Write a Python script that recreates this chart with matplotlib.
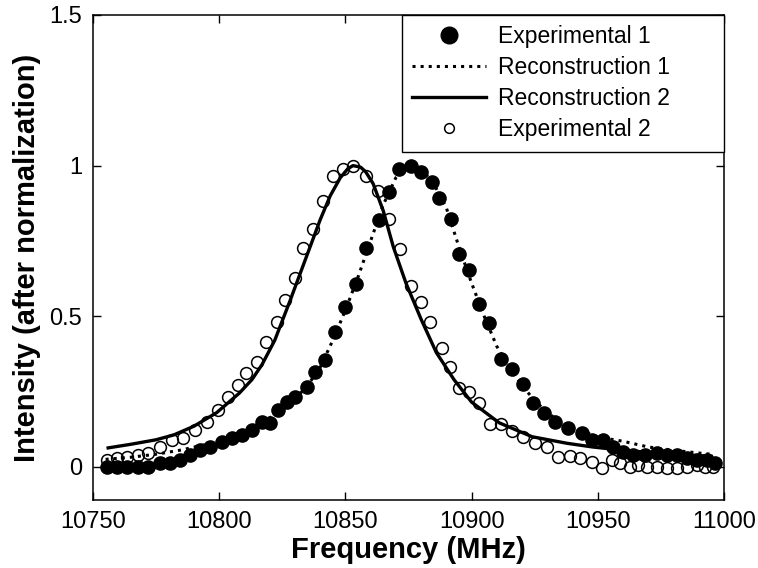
import matplotlib
matplotlib.use("Agg")
import matplotlib.pyplot as plt

plt.rcParams['font.family'] = ['Liberation Sans', 'DejaVu Sans']

# --- Experimental 1 (filled circles) ---
freq_exp1 = [10755.5, 10759.5, 10763.5, 10767.8, 10771.8, 10776.5, 10780.5, 10784.5,
             10788.4, 10792.4, 10796.4, 10801.1, 10805.1, 10809.0, 10813.0, 10817.0,
             10820.0, 10823.3, 10826.9, 10830.0, 10834.8, 10838.0, 10841.9, 10845.9,
             10849.8, 10854.2, 10858.2, 10863.3, 10867.3, 10871.2, 10876.0, 10880.0,
             10884.3, 10887.1, 10891.8, 10895.0, 10899.0, 10902.9, 10906.9, 10911.6,
             10916.0, 10920.4, 10924.3, 10928.7, 10933.0, 10938.2, 10943.7, 10947.7,
             10952.1, 10956.0, 10960.0, 10963.9, 10968.7, 10973.5, 10977.4, 10981.4,
             10985.3, 10989.3, 10993.3, 10996.4]
int_exp1 = [0.0, 0.0, 0.0, 0.0, 0.0, 0.013, 0.013, 0.023,
            0.040, 0.056, 0.066, 0.083, 0.096, 0.106, 0.123, 0.149,
            0.146, 0.189, 0.215, 0.232, 0.265, 0.315, 0.354, 0.447,
            0.530, 0.606, 0.728, 0.818, 0.911, 0.990, 1.000, 0.980,
            0.947, 0.891, 0.824, 0.705, 0.652, 0.540, 0.477, 0.358,
            0.325, 0.275, 0.212, 0.179, 0.149, 0.129, 0.113, 0.089,
            0.089, 0.066, 0.050, 0.040, 0.040, 0.046, 0.040, 0.040,
            0.030, 0.023, 0.023, 0.013]

# --- Experimental 2 (open circles) ---
freq_exp2 = [10755.5, 10759.5, 10763.5, 10767.8, 10771.8, 10776.5, 10781.3, 10785.7,
             10790.4, 10795.2, 10799.5, 10803.5, 10807.4, 10810.6, 10815.0, 10818.5,
             10822.9, 10826.1, 10830.0, 10833.2, 10837.2, 10841.1, 10845.1, 10849.0,
             10853.0, 10858.2, 10862.9, 10867.3, 10871.6, 10876.0, 10880.0, 10883.5,
             10888.3, 10891.4, 10895.0, 10899.0, 10902.9, 10907.3, 10911.6, 10916.0,
             10920.4, 10925.1, 10929.9, 10934.2, 10939.0, 10943.0, 10947.7, 10951.7,
             10955.6, 10958.8, 10962.8, 10966.0, 10969.5, 10973.5, 10977.4, 10981.4,
             10985.3, 10989.3, 10992.5, 10995.6]
int_exp2 = [0.023, 0.030, 0.033, 0.040, 0.046, 0.066, 0.089, 0.096,
            0.123, 0.149, 0.189, 0.232, 0.272, 0.311, 0.348, 0.414,
            0.480, 0.553, 0.626, 0.725, 0.791, 0.884, 0.967, 0.990,
            1.000, 0.967, 0.917, 0.824, 0.722, 0.599, 0.546, 0.480,
            0.394, 0.331, 0.262, 0.248, 0.212, 0.142, 0.142, 0.119,
            0.099, 0.079, 0.066, 0.033, 0.036, 0.030, 0.017, -0.003,
            0.023, 0.013, 0.000, 0.007, 0.000, 0.000, -0.003, -0.003,
            0.000, 0.007, 0.000, 0.000]

# --- Reconstruction 1 (dotted) ---
freq_rec1 = [10755, 10765, 10775, 10785, 10795, 10805, 10815, 10825, 10830, 10835,
             10840, 10845, 10850, 10855, 10860, 10865, 10870, 10875, 10878, 10880,
             10885, 10890, 10895, 10900, 10905, 10910, 10915, 10920, 10925, 10930,
             10935, 10940, 10945, 10950, 10955, 10960, 10970, 10980, 10990, 10995]
int_rec1 = [0.025, 0.032, 0.042, 0.056, 0.075, 0.100, 0.135, 0.190, 0.225, 0.270,
            0.330, 0.420, 0.520, 0.630, 0.750, 0.870, 0.960, 1.000, 1.000, 0.990,
            0.940, 0.860, 0.730, 0.610, 0.500, 0.400, 0.330, 0.270, 0.220, 0.180,
            0.150, 0.130, 0.115, 0.100, 0.092, 0.085, 0.066, 0.055, 0.046, 0.042]

# --- Reconstruction 2 (solid) ---
freq_rec2 = [10756, 10765, 10775, 10782, 10790, 10799, 10808, 10813, 10817, 10822,
             10828, 10832, 10836, 10840, 10844, 10848, 10851, 10853, 10856, 10858,
             10861, 10865, 10869, 10874, 10880, 10886, 10893, 10900, 10911, 10924,
             10938, 10948, 10960, 10975, 10995]
int_rec2 = [0.063, 0.075, 0.090, 0.106, 0.135, 0.180, 0.245, 0.290, 0.340, 0.420,
            0.550, 0.640, 0.730, 0.820, 0.900, 0.960, 0.990, 1.000, 0.995, 0.980,
            0.940, 0.850, 0.730, 0.610, 0.490, 0.380, 0.290, 0.215, 0.146, 0.100,
            0.078, 0.066, 0.055, 0.045, 0.035]

x_ticks = [10750, 10800, 10850, 10900, 10950, 11000]
y_ticks = [0, 0.5, 1, 1.5]
y_tick_labels = ["0", "0.5", "1", "1.5"]

fig = plt.figure(figsize=(7.58, 5.68), dpi=100)
ax = fig.add_axes([0.1227, 0.1197, 0.8324, 0.8539])

ax.plot(freq_exp1, int_exp1, 'o', color='black', markersize=9.5,
        label='Experimental 1', zorder=3)
ax.plot(freq_rec1, int_rec1, ':', color='black', linewidth=2.2,
        label='Reconstruction 1', zorder=2)
ax.plot(freq_rec2, int_rec2, '-', color='black', linewidth=2.4,
        label='Reconstruction 2', zorder=2)
ax.plot(freq_exp2, int_exp2, 'o', markerfacecolor='none', markeredgecolor='black',
        markeredgewidth=1.1, markersize=8.5, label='Experimental 2', zorder=3)

ax.set_xlim(10750, 11000)
ax.set_ylim(-0.11, 1.5)
ax.set_xticks(x_ticks)
ax.set_yticks(y_ticks)
ax.set_yticklabels(y_tick_labels)
ax.tick_params(direction='in', length=6, width=1, top=True, right=True,
               labelsize=17, pad=8)
for sp in ax.spines.values():
    sp.set_linewidth(1.1)

ax.set_xlabel('Frequency (MHz)', fontsize=21, fontweight='bold', labelpad=2)
ax.set_ylabel('Intensity (after normalization)', fontsize=21, fontweight='bold',
              labelpad=6)

# legend box spans from x~10872 to the right axis, top aligned with the axes
leg = ax.legend(loc='upper left', bbox_to_anchor=(0.4897, 0.0, 0.5103, 1.0),
                mode='expand', fontsize=16.5, frameon=True, fancybox=False,
                edgecolor='black', framealpha=1, borderaxespad=0,
                handlelength=3.2, handletextpad=0.55, labelspacing=0.35,
                borderpad=0.45)
leg.get_frame().set_linewidth(1.0)
leg.legend_handles[0].set_markersize(12)
leg.legend_handles[3].set_markersize(7)

fig.savefig('out.png', dpi=100)
